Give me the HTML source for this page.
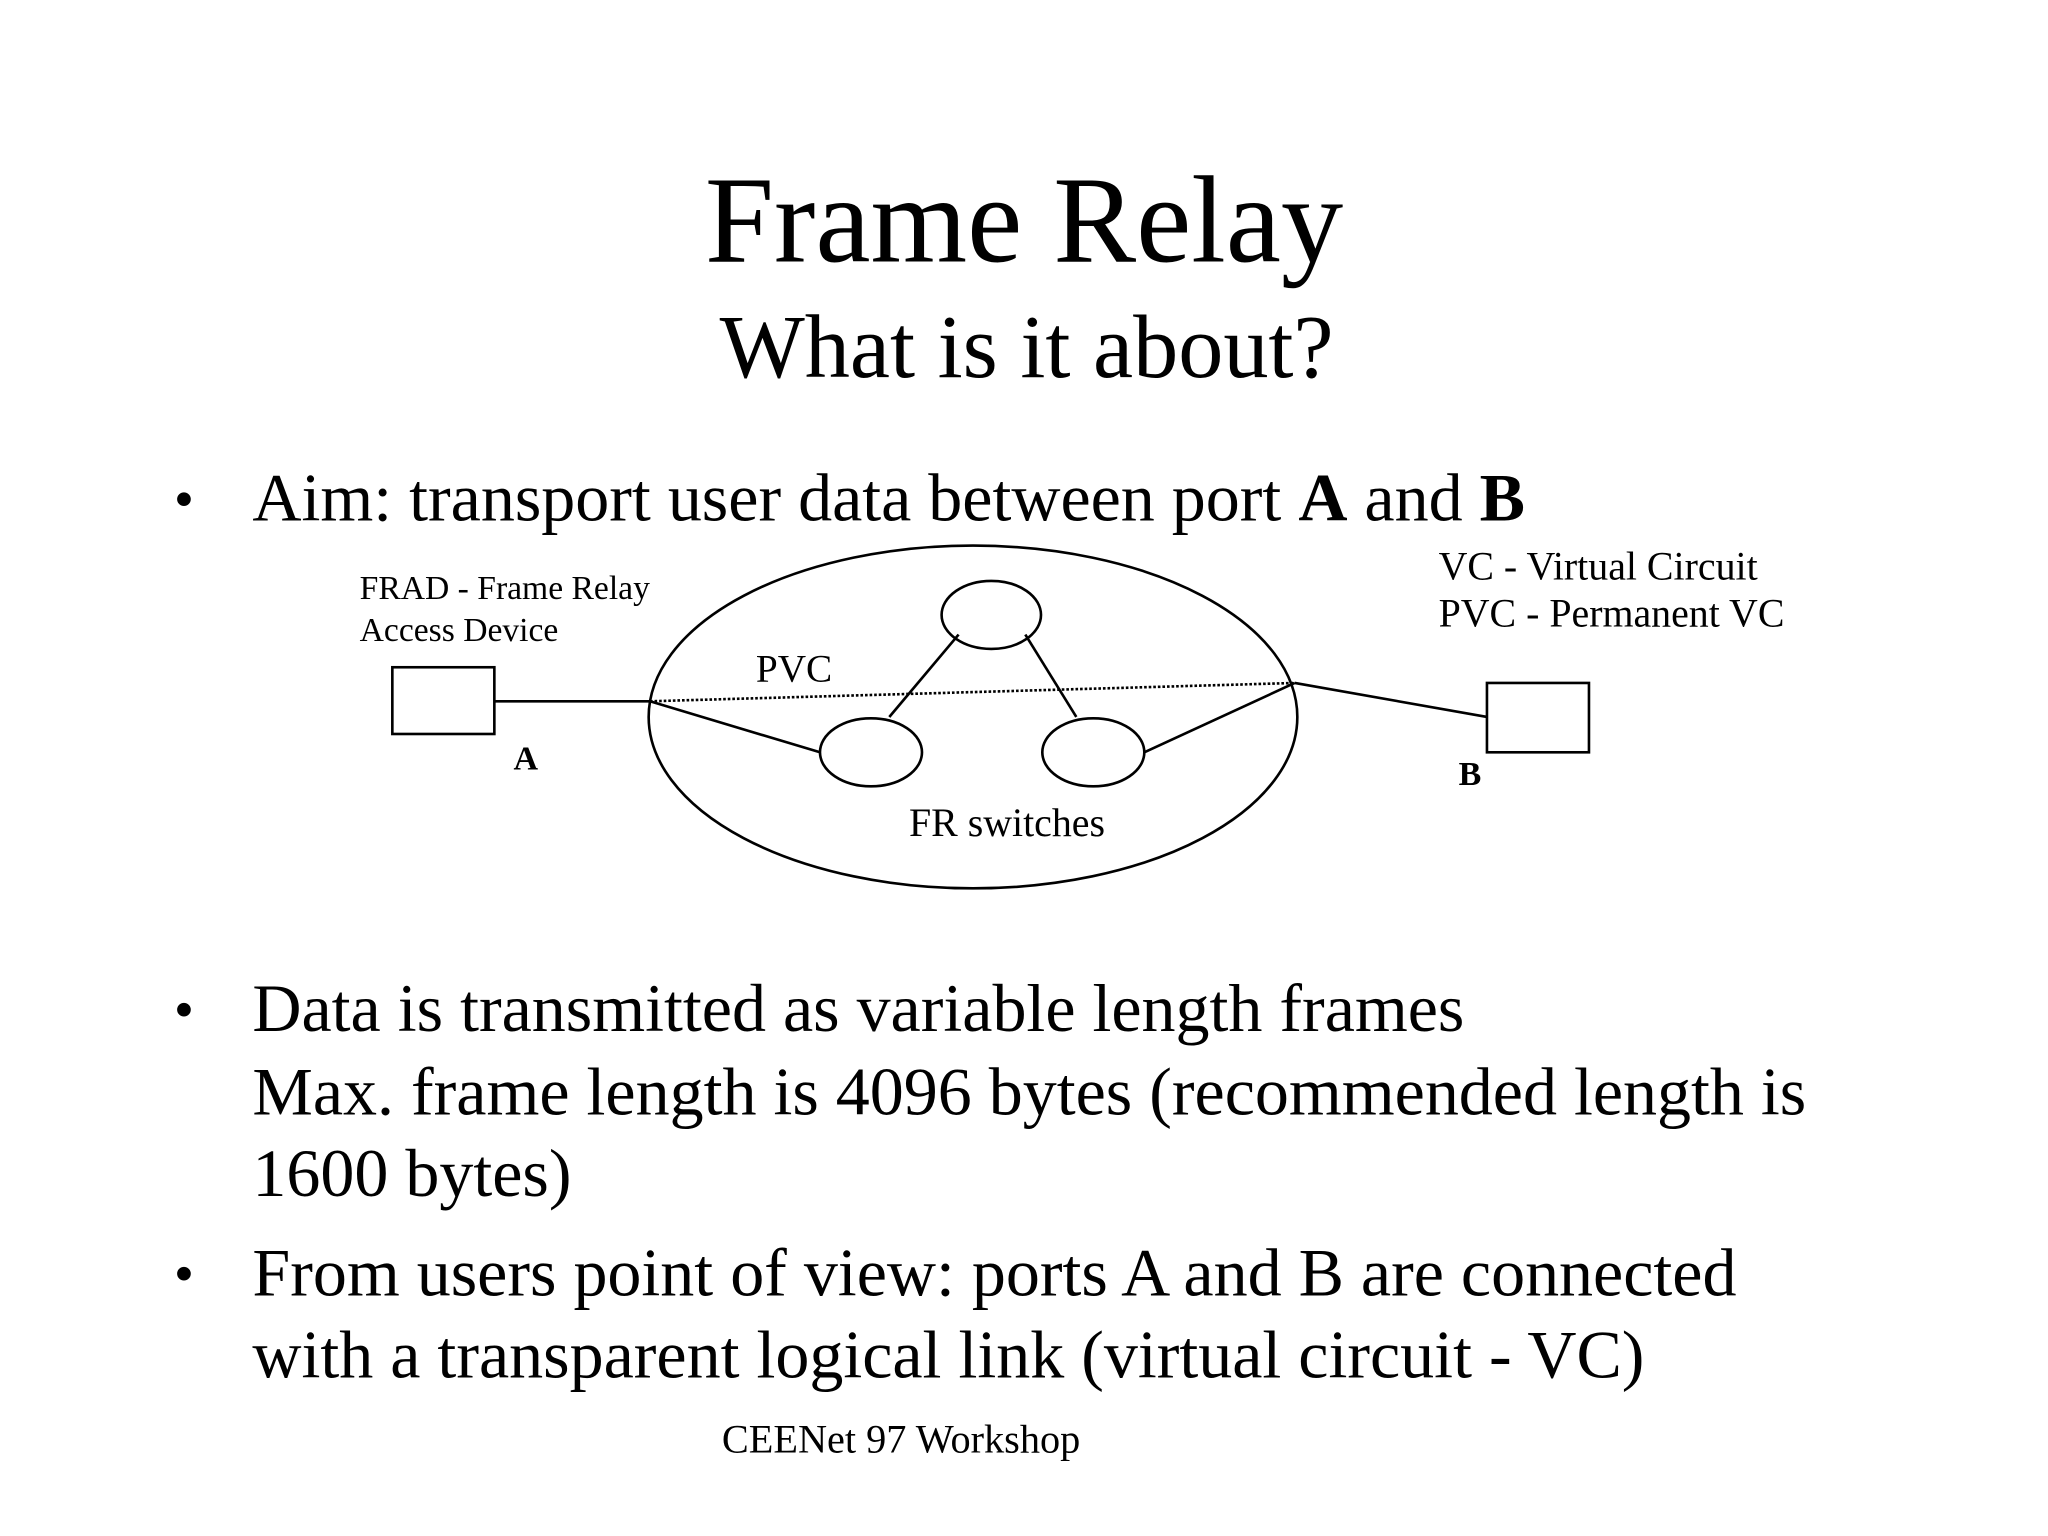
<!DOCTYPE html>
<html><head><meta charset="utf-8"><style>html,body{margin:0;padding:0;background:#fff}svg{display:block}</style></head>
<body>
<svg width="2048" height="1536" viewBox="0 0 1566 1174" preserveAspectRatio="none" xmlns="http://www.w3.org/2000/svg" font-family="Liberation Serif, serif" fill="#000">
<text x="783" y="200" font-size="95" text-anchor="middle">Frame Relay</text>
<text x="785" y="288" font-size="69" text-anchor="middle">What is it about?</text>
<text x="133" y="396" font-size="44">•</text>
<text x="193" y="398" font-size="52">Aim: transport user data between port <tspan font-weight="bold">A</tspan> and <tspan font-weight="bold">B</tspan></text>
<text x="275" y="458" font-size="25.7">FRAD - Frame Relay</text>
<text x="275" y="490" font-size="25.7">Access Device</text>
<text x="1100" y="443" font-size="30.5">VC - Virtual Circuit</text>
<text x="1100" y="479" font-size="30.5">PVC - Permanent VC</text>
<g fill="none" stroke="#000" stroke-width="2">
<rect x="300" y="510" width="78" height="51"/>
<rect x="1137" y="522" width="78" height="53"/>
<ellipse cx="744" cy="548" rx="248" ry="131"/>
<ellipse cx="758" cy="470" rx="38" ry="26"/>
<ellipse cx="666" cy="575" rx="39" ry="26"/>
<ellipse cx="836" cy="575" rx="39" ry="26"/>
<line x1="378" y1="536" x2="497" y2="536"/>
<line x1="497" y1="536" x2="627" y2="575"/>
<line x1="680" y1="548" x2="733" y2="485"/>
<line x1="784" y1="485" x2="823" y2="548"/>
<line x1="875" y1="575" x2="990" y2="522"/>
<line x1="990" y1="522" x2="1137" y2="548"/>
<line x1="497" y1="536" x2="990" y2="522" stroke-dasharray="2,1.5"/>
</g>
<text x="578" y="521" font-size="30">PVC</text>
<text x="402" y="588" font-size="26" font-weight="bold" text-anchor="middle">A</text>
<text x="1124" y="600" font-size="26" font-weight="bold" text-anchor="middle">B</text>
<text x="770" y="639" font-size="30.5" text-anchor="middle">FR switches</text>
<text x="133" y="786" font-size="44">•</text>
<text x="193" y="788" font-size="52">Data is transmitted as variable length frames</text>
<text x="193" y="852" font-size="52">Max. frame length is 4096 bytes (recommended length is</text>
<text x="193" y="914" font-size="52">1600 bytes)</text>
<text x="133" y="988" font-size="44">•</text>
<text x="193" y="990" font-size="52">From users point of view: ports A and B are connected</text>
<text x="193" y="1053" font-size="52">with a transparent logical link (virtual circuit - VC)</text>
<text x="689" y="1110" font-size="30.8" text-anchor="middle">CEENet 97 Workshop</text>
</svg>
</body></html>
